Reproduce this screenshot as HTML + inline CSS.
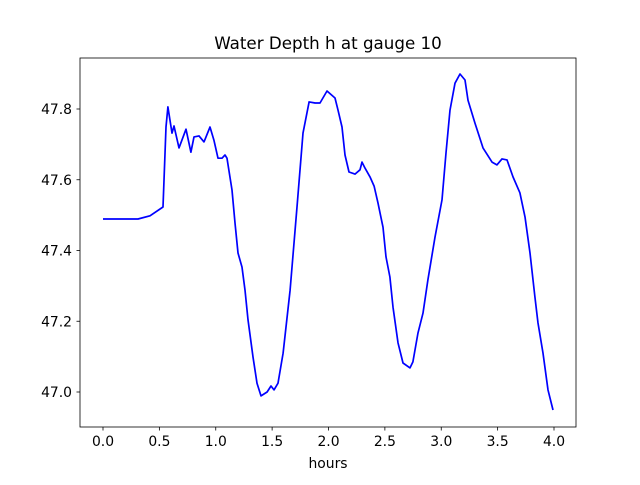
<!DOCTYPE html>
<html><head><meta charset="utf-8"><style>
body{margin:0;background:#fff}
svg{font-family:"DejaVu Sans","Liberation Sans",sans-serif}
</style></head><body>
<svg id="chart" width="640" height="480">
<rect width="640" height="480" fill="#fff"/>
<text x="328" y="49" text-anchor="middle" font-size="16.7">Water Depth h at gauge 10</text>
<text x="328" y="468" text-anchor="middle" font-size="13.9">hours</text>
<g id="xaxis"></g>
<g id="yaxis"></g>
<path id="line" fill="none" stroke="#0000ff" stroke-width="1.7" stroke-linejoin="round"/>
<rect x="80" y="58" width="496" height="369" fill="none" stroke="#000" stroke-width="0.8"/>
</svg>
<script>
const hours=[0,0.31,0.417,0.532,0.559,0.576,0.612,0.63,0.674,0.736,0.78,0.807,0.851,0.896,0.949,0.984,1.02,1.055,1.082,1.1,1.144,1.171,1.197,1.233,1.259,1.286,1.33,1.366,1.401,1.455,1.49,1.517,1.552,1.597,1.659,1.721,1.774,1.828,1.881,1.925,1.987,2.058,2.084,2.12,2.146,2.182,2.235,2.279,2.297,2.324,2.368,2.404,2.439,2.483,2.51,2.545,2.572,2.616,2.661,2.723,2.749,2.794,2.838,2.882,2.945,3.007,3.042,3.078,3.122,3.166,3.211,3.237,3.299,3.37,3.45,3.494,3.539,3.583,3.636,3.698,3.743,3.787,3.831,3.858,3.902,3.947,3.991];
const depth=[47.489,47.489,47.498,47.523,47.749,47.806,47.732,47.752,47.69,47.743,47.678,47.721,47.724,47.707,47.749,47.712,47.661,47.661,47.67,47.661,47.571,47.478,47.393,47.353,47.288,47.204,47.099,47.025,46.989,47.0,47.017,47.006,47.025,47.11,47.288,47.523,47.732,47.82,47.817,47.817,47.851,47.831,47.797,47.749,47.67,47.622,47.616,47.628,47.65,47.633,47.608,47.582,47.534,47.466,47.382,47.325,47.24,47.139,47.082,47.068,47.085,47.167,47.223,47.317,47.438,47.543,47.676,47.797,47.873,47.899,47.882,47.825,47.76,47.69,47.65,47.642,47.659,47.656,47.608,47.563,47.495,47.393,47.269,47.195,47.11,47.006,46.949];
const xTicks=[0.0,0.5,1.0,1.5,2.0,2.5,3.0,3.5,4.0];
const yTicks=[47.0,47.2,47.4,47.6,47.8];
const X=h=>103+(h)*112.75;
const Y=v=>392-(v-47.0)*353.75;
const NS="http://www.w3.org/2000/svg";
const xa=document.getElementById('xaxis'),ya=document.getElementById('yaxis');
xTicks.forEach(t=>{
 const l=document.createElementNS(NS,'line');
 
 
 l.setAttribute('x1',X(t));l.setAttribute('x2',X(t));l.setAttribute('y1',427);l.setAttribute('y2',430.5);l.setAttribute('stroke','#000');l.setAttribute('stroke-width','0.8');
 xa.appendChild(l);
 const tx=document.createElementNS(NS,'text');
 
 
 tx.setAttribute('x',X(t));tx.setAttribute('y',446);tx.setAttribute('text-anchor','middle');tx.setAttribute('font-size','13.9');
 tx.textContent=t.toFixed(1);xa.appendChild(tx);
});
yTicks.forEach(t=>{
 const l=document.createElementNS(NS,'line');
 
 
 l.setAttribute('x1',76.5);l.setAttribute('x2',80);l.setAttribute('y1',Y(t));l.setAttribute('y2',Y(t));l.setAttribute('stroke','#000');l.setAttribute('stroke-width','0.8');
 ya.appendChild(l);
 const tx=document.createElementNS(NS,'text');
 
 
 tx.setAttribute('x',72);tx.setAttribute('y',Y(t)+5);tx.setAttribute('text-anchor','end');tx.setAttribute('font-size','13.9');
 tx.textContent=t.toFixed(1);ya.appendChild(tx);
});
document.getElementById('line').setAttribute('d',hours.map((h,i)=>(i?'L':'M')+X(h).toFixed(1)+','+Y(depth[i]).toFixed(1)).join(''));
</script>
</body></html>
